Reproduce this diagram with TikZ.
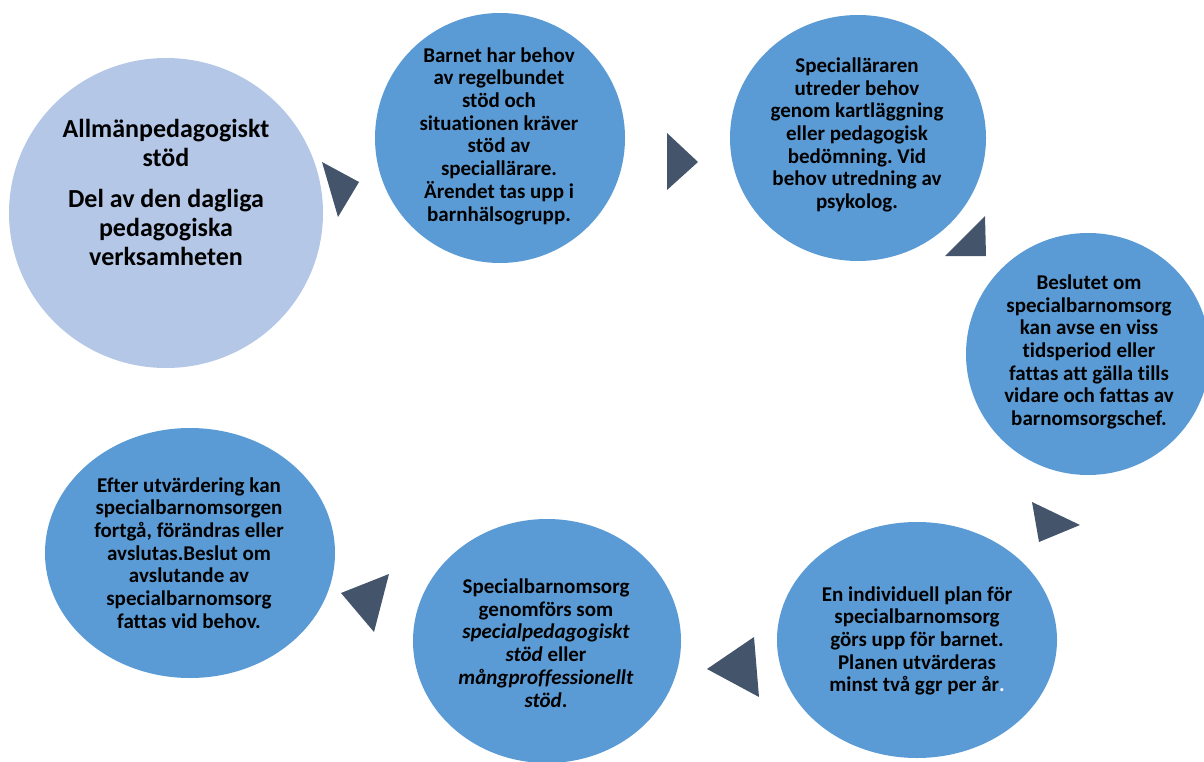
\documentclass[tikz,border=0pt]{standalone}
\usepackage{fontspec}
\setmainfont{Carlito}[Ligatures={NoCommon}]
\usetikzlibrary{shapes.geometric}
\definecolor{lightblob}{HTML}{B4C7E7}
\definecolor{blob}{HTML}{5B9BD5}
\definecolor{tri}{HTML}{44546A}
\frenchspacing
\tikzset{
  blobshape/.style={ellipse, inner sep=0pt, draw=none, fill=blob},
  txt/.style={align=center, font=\bfseries\fontsize{21}{22.7}\selectfont, text=black, inner sep=0pt},
  bigtxt/.style={align=center, font=\bfseries\fontsize{26}{29}\selectfont, text=black, inner sep=0pt},
  arrowtri/.style={fill=tri, draw=none},
}
\begin{document}
\begin{tikzpicture}[x=1pt,y=-1pt]
\useasboundingbox (0,0) rectangle (1204,762);
\clip (0,0) rectangle (1204,762);
% blobs
\node[blobshape, fill=lightblob, minimum width=314pt, minimum height=310pt] (c1) at (166,213) {};
\node[blobshape, minimum width=250pt, minimum height=250pt] (c2) at (500,138) {};
\node[blobshape, minimum width=256pt, minimum height=246pt] (c3) at (858,138) {};
\node[blobshape, minimum width=244pt, minimum height=242pt] (c4) at (1088,354) {};
\node[blobshape, minimum width=280pt, minimum height=236pt] (c5) at (917,640) {};
\node[blobshape, minimum width=268pt, minimum height=244pt] (c6) at (547,641) {};
\node[blobshape, minimum width=290pt, minimum height=250pt] (c7) at (190,553) {};
% texts
\node[bigtxt] (t1) at (166,192) {Allmänpedagogiskt\\stöd\\[12pt]Del av den dagliga\\pedagogiska\\verksamheten};
\node[txt] (t2) at (499,136) {Barnet har behov\\av regelbundet\\stöd och\\situationen kräver\\stöd av\\speciallärare.\\Ärendet tas upp i\\barnhälsogrupp.};
\node[txt] (t3) at (857,135) {Specialläraren\\utreder behov\\genom kartläggning\\eller pedagogisk\\bedömning. Vid\\behov utredning av\\psykolog.};
\node[txt] (t4) at (1089,352) {Beslutet om\\specialbarnomsorg\\kan avse en viss\\tidsperiod eller\\fattas att gälla tills\\vidare och fattas av\\barnomsorgschef.};
\node[txt] (t5) at (917,641) {En individuell plan för\\specialbarnomsorg\\görs upp för barnet.\\Planen utvärderas\\minst två ggr per år{\color{white}.}};
\node[txt] (t6) at (546,643) {Specialbarnomsorg\\genomförs som\\\textit{specialpedagogiskt}\\\textit{stöd} eller\\\textit{mångproffessionellt}\\\textit{stöd}.};
\node[txt] (t7) at (189,553) {Efter utvärdering kan\\specialbarnomsorgen\\fortgå, förändras eller\\avslutas.Beslut om\\avslutande av\\specialbarnomsorg\\fattas vid behov.};
% arrow triangles
\fill[arrowtri] (322,162) -- (359,182) -- (338,217) -- cycle;
\fill[arrowtri] (667,133) -- (698,162) -- (667,190) -- cycle;
\fill[arrowtri] (945,256) -- (985,216) -- (986,256) -- cycle;
\fill[arrowtri] (1032,502) -- (1080,525) -- (1039,542) -- cycle;
\fill[arrowtri] (707,669) -- (754,637) -- (759,697) -- cycle;
\fill[arrowtri] (341,593) -- (389,574) -- (374,632) -- cycle;
\end{tikzpicture}
\end{document}
